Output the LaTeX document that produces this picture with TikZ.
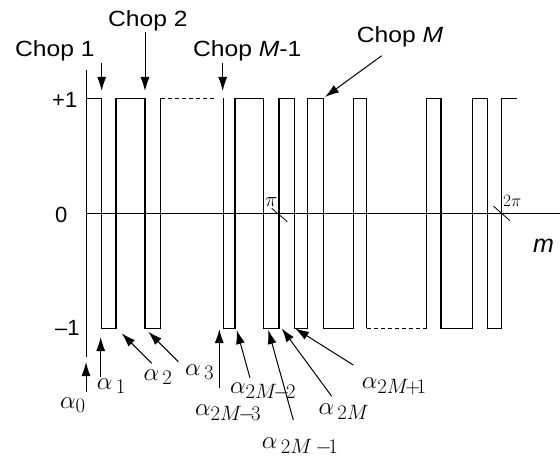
\documentclass[tikz,border=0pt]{standalone}
\usepackage{fontspec}
\setmainfont{Liberation Sans}
\newfontfamily\chopfont{Liberation Sans}[FakeStretch=1.12]
\usetikzlibrary{arrows.meta,positioning,calc}

\begin{document}
\begin{tikzpicture}[
				x=1pt, y=-1pt,
				wave/.style={line width=1.1pt},
				axis/.style={line width=0.9pt},
				arrow/.style={-{Latex[length=14pt,width=9pt]}, line width=1pt},
				lbl/.style={font=\fontsize{22}{26}\selectfont, inner sep=0pt, anchor=base west},
				chop/.style={lbl, font=\fontsize{22}{26}\selectfont\chopfont},
				alab/.style={font=\fontsize{24.88}{30}\selectfont, inner sep=0pt, anchor=base west},
				tick/.style={line width=0.8pt}
				]
				\useasboundingbox (0,0) rectangle (560,457);
				
				% Assi
				\coordinate (ytop) at (86,70);
				\coordinate (ybot) at (86,357);
				\coordinate (xl) at (86,213.3);
				\coordinate (xr) at (560,213.3);
				\draw[axis] (ytop) -- (ybot);
				\draw[axis] (xl) -- (xr);
				
				% Livelli
				\node[lbl] (piu) at (52,108) {+1};
				\node[lbl] (zero) at (55,223) {0};
				\node[lbl] (meno) at (55,335) {\textendash1};
				\node[lbl, font=\fontsize{25}{28}\selectfont\itshape] (m) at (533,253) {m};
				
				% Forma d'onda
				\draw[wave] (86,98.3) -| (101.7,328.3) -| (116,98.3) -| (145,328.3) -| (160.7,98.3);
				\draw[wave, dash pattern=on 4pt off 3pt] (160.7,98.3) -- (216,98.3);
				\draw[wave] (223.3,98.3) -- (223.3,328.3) -| (235,98.3) -| (263.3,328.3) -| (279,98.3)
					-| (294.3,328.3) -| (307.3,98.3) -| (323.3,328.3) -| (353.3,98.3) -| (366.7,328.3);
				\draw[wave, dash pattern=on 4pt off 3pt] (366.7,328.3) -- (426.7,328.3);
				\draw[wave] (426.7,328.3) -- (426.7,98.3) -| (441,328.3) -| (472.7,98.3) -| (487.3,328.3)
					-| (501.7,98.3) -- (516.7,98.3);
				
				% Tacche pi e 2pi
				\draw[tick] (271.7,208.3) -- (287.3,221.7);
				\draw[tick] (493.3,206) -- (510,220.7);
				\node[lbl, font=\fontsize{21}{24}\selectfont] (pi) at (265,206.7) {$\pi$};
				\node[lbl, font=\fontsize{19}{22}\selectfont] (duepi) at (503,207) {$2\pi$};
				
				% Etichette chop
				\node[chop] (chop1) at (15,56.7) {Chop 1};
				\node[chop] (chop2) at (108,26.7) {Chop 2};
				\node[chop] (chopm1) at (193,56.7) {Chop \textit{M}-1};
				\node[chop] (chopm) at (356.7,42.7) {Chop \textit{M}};
				
				% Frecce chop
				\coordinate (c1a) at (101.7,63);   \coordinate (c1b) at (101.7,91);
				\coordinate (c2a) at (145,32);     \coordinate (c2b) at (145,91);
				\coordinate (c3a) at (222.7,63);   \coordinate (c3b) at (222.7,91);
				\coordinate (c4a) at (381.7,55.7); \coordinate (c4b) at (325,97);
				\draw[arrow] (c1a) -- (c1b);
				\draw[arrow] (c2a) -- (c2b);
				\draw[arrow] (c3a) -- (c3b);
				\draw[arrow] (c4a) -- (c4b);
				
				% Etichette alfa
				\node[alab] (a0) at (60,408) {$\alpha_0$};
				\node[alab] (a1) at (96.7,389) {$\alpha_{\,1}$};
				\node[alab] (a2) at (143.3,380) {$\alpha_{\,2}$};
				\node[alab] (a3) at (185,375) {$\alpha_{\,3}$};
				\node[alab] (a2m3) at (195,415) {$\alpha_{2M\!-\!3}$};
				\node[alab] (a2m2) at (230,393) {$\alpha_{2M\!-\!2}$};
				\node[alab] (a2m1) at (261.7,448) {$\alpha_{\,2M\,-\!1}$};
				\node[alab] (a2m) at (318.3,414) {$\alpha_{\,2M}$};
				\node[alab] (a2mp1) at (361.7,388) {$\alpha_{2M\!+\!1}$};
				
				% Frecce alfa
				\coordinate (t0) at (86,391.7);     \coordinate (h0) at (86,362);
				\coordinate (t1) at (100.7,376.7);  \coordinate (h1) at (100.7,337);
				\coordinate (t2) at (151.7,363.3);  \coordinate (h2) at (121.7,333.3);
				\coordinate (t3) at (178.3,361.7);  \coordinate (h3) at (148.3,331.7);
				\coordinate (t4) at (219.3,388.3);  \coordinate (h4) at (219.3,329);
				\coordinate (t5) at (250,378);      \coordinate (h5) at (236.7,330);
				\coordinate (t6) at (293.3,420);    \coordinate (h6) at (268.3,330);
				\coordinate (t7) at (331.7,396.3);  \coordinate (h7) at (281.7,328.3);
				\coordinate (t8) at (353.3,365);    \coordinate (h8) at (295,328.3);
				\foreach \i in {0,...,8}
					\draw[arrow] (t\i) -- (h\i);
			\end{tikzpicture}
\end{document}
